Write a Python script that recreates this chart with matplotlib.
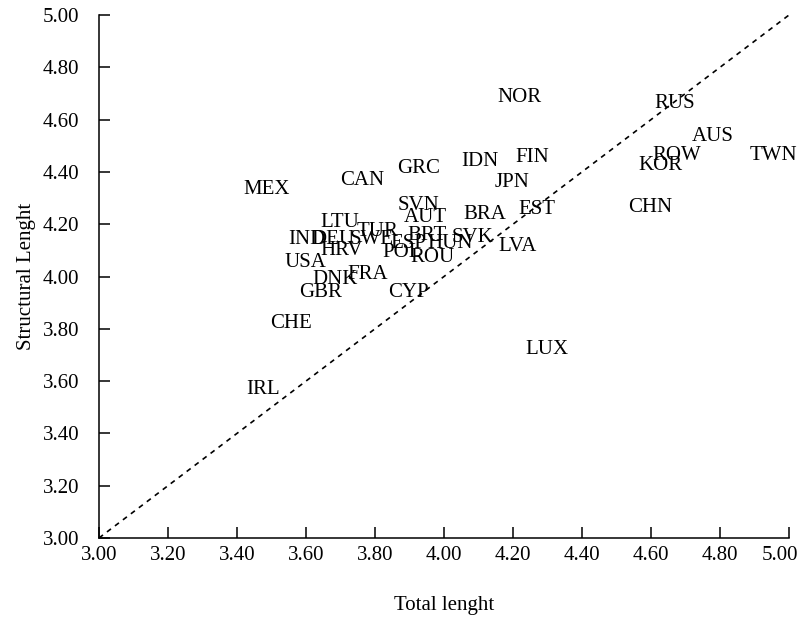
import matplotlib
matplotlib.use("Agg")
import matplotlib.pyplot as plt
from matplotlib.transforms import ScaledTranslation

## Datos: etiquetas de país con longitud total (x) y estructural (y)
paises = ["NOR", "RUS", "AUS", "ROW", "KOR", "TWN", "CHN", "FIN", "IDN", "GRC",
          "CAN", "MEX", "JPN", "SVN", "AUT", "BRA", "EST", "LTU", "TUR", "IND",
          "DEU", "SWE", "HRV", "BRT", "ESP", "HUN", "SVK", "LVA", "POL", "ROU",
          "USA", "FRA", "DNK", "GBR", "CYP", "CHE", "IRL", "LUX"]
total = [4.22, 4.67, 4.78, 4.675, 4.626, 4.954, 4.597, 4.255, 4.104, 3.925,
         3.762, 3.487, 4.197, 3.925, 3.945, 4.119, 4.27, 3.699, 3.806, 3.603,
         3.678, 3.791, 3.704, 3.951, 3.896, 4.017, 4.084, 4.212, 3.878, 3.968,
         3.597, 3.78, 3.684, 3.641, 3.896, 3.557, 3.475, 4.299]
estructural = [4.686, 4.663, 4.537, 4.461, 4.423, 4.461, 4.262, 4.457, 4.438, 4.414,
               4.369, 4.331, 4.358, 4.273, 4.224, 4.239, 4.258, 4.208, 4.174, 4.143,
               4.143, 4.143, 4.101, 4.155, 4.128, 4.128, 4.151, 4.113, 4.09, 4.071,
               4.052, 4.006, 3.987, 3.937, 3.937, 3.822, 3.566, 3.719]
ticks = [3.0, 3.2, 3.4, 3.6, 3.8, 4.0, 4.2, 4.4, 4.6, 4.8, 5.0]

plt.rcParams["font.family"] = ["Liberation Serif", "DejaVu Serif"]

fig = plt.figure(figsize=(8.01, 6.21), dpi=100)
ax = fig.add_axes([0.1236, 0.1337, 0.8614, 0.8421])

# Línea de 45 grados
ax.plot([3, 5], [3, 5], color="black", linestyle=(0, (3, 3)), linewidth=1.2)

# Etiquetas de los países (sin marcadores)
for nombre, x, y in zip(paises, total, estructural):
    ax.text(x, y, nombre, ha="center", va="center", fontsize=15, color="black")

ax.set_xlim(3, 5)
ax.set_ylim(3, 5)
ax.set_xticks(ticks)
ax.set_yticks(ticks)
ax.set_xticklabels([f"{t:.2f}" for t in ticks])
ax.set_yticklabels([f"{t:.2f}" for t in ticks])
ax.tick_params(direction="in", length=8, width=1.1, labelsize=15)
ax.tick_params(axis="y", pad=14)
ax.tick_params(axis="x", pad=6)
for lado in ["top", "right"]:
    ax.spines[lado].set_visible(False)
for lado in ["left", "bottom"]:
    ax.spines[lado].set_linewidth(1.1)

# La última etiqueta del eje x se corre un poco para que quepa
ultima = ax.get_xticklabels()[-1]
ultima.set_transform(ultima.get_transform() + ScaledTranslation(-9 / 100, 0, fig.dpi_scale_trans))

ax.set_xlabel("Total lenght", fontsize=15, labelpad=22)
ax.set_ylabel("Structural Lenght", fontsize=15, labelpad=5)

fig.savefig("out.png", dpi=100)
